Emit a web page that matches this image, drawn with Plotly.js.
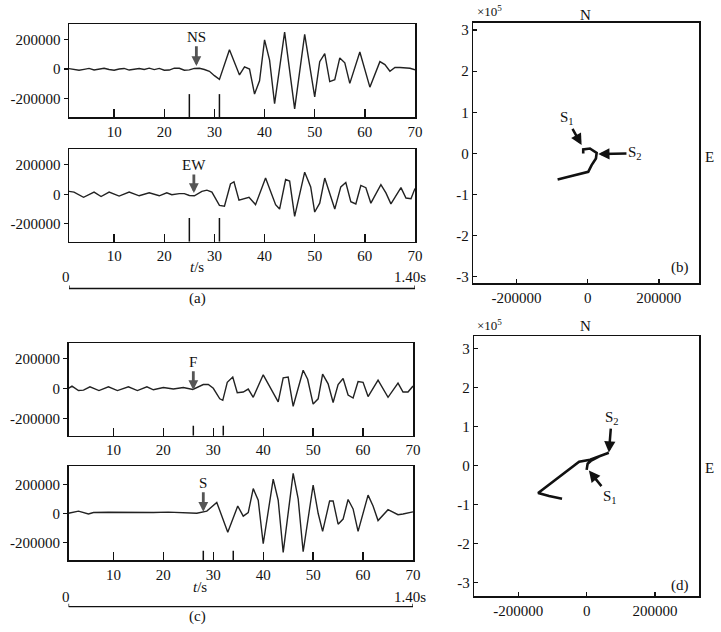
<!DOCTYPE html>
<html>
<head>
<meta charset="utf-8">
<script src="https://cdn.plot.ly/plotly-3.0.1.min.js"></script>
<style>html,body{margin:0;padding:0;background:#fff;}#chart{width:721px;height:632px;}</style>
</head>
<body>
<div id="chart"></div>
<script>
// ---------- data ----------
const nsT = [1,2,3,4,5,6,7,8,9,10,11,12,13,14,15,16,17,18,19,20,21,22,23,24,25,26,27,28,29,30,31,33,35,36,37,38,39,40,41,42,44,46,48,50,51,52,53,54,55,56,57,59,61,63,64,65,66,67,68,69,70];
const nsV = [3000,-3000,-8000,-2000,4000,-6000,-2000,5000,-3000,-8000,0,4000,-7000,-2000,3000,-3000,6000,-4000,4000,-8000,-7000,6000,5000,-8000,-6000,4000,5000,-3000,-15000,-45000,-70000,130000,-40000,15000,0,-170000,-80000,198000,60000,-235000,250000,-270000,235000,-188000,50000,105000,-85000,-72000,75000,42000,-97000,115000,-123000,50000,30000,-15000,10000,10000,10000,5000,-5000];

const ewT = [1,2,3.9,6,7.4,9,11,13,15,17,19,20.5,21.5,23,24,25,26,27.5,28.5,29.5,31,32,33.2,33.9,34.9,36.9,38.2,40.2,42.2,43,44.2,45,46,48,49.2,50,51,52,54,55.2,56.2,57.2,58.2,59.2,60.2,61.2,63.2,64.2,65.2,67.2,68.2,69.2,70];
const ewV = [20000,15000,-20000,15000,-15000,15000,-12000,15000,-10000,10000,-10000,10000,-3000,5000,5000,-8000,-10000,20000,28000,15000,-75000,-80000,70000,85000,-40000,-20000,-70000,110000,-70000,-100000,100000,90000,-150000,150000,50000,-120000,-60000,110000,-100000,50000,80000,-50000,-65000,60000,45000,-60000,65000,10000,-65000,45000,-25000,-30000,40000];

const fT = [1,1.7,3,4,5.3,7.1,9,10.8,13,14.8,16.7,18,20,22,24,25.9,28,29,30,31.3,31.9,32.8,33.9,34.8,36,37,38,40,43,44,45,46,48,48.9,50,51,51.9,53,54,55,56,57,58,59,60,61,63,65,67,68,69,70];
const fV = [0,15000,-15000,-12000,10000,-15000,10000,-15000,10000,-15000,10000,-10000,5000,-5000,5000,-8000,25000,25000,0,-70000,-80000,40000,75000,-30000,-25000,-5000,-60000,90000,-90000,70000,75000,-120000,120000,60000,-105000,-70000,95000,30000,-95000,25000,65000,-45000,-65000,45000,40000,-55000,55000,-60000,35000,-25000,-25000,15000];

const sT = [1,3,5,6,9,12,15,18,21,24,26.7,28.7,30.7,32.9,34.9,36,37,38,39,40,42,43,44,46,47,48,50,51,51.9,53.3,54,55,56,57,58,59,61,62,63,65,67,68,70];
const sV = [0,15000,-5000,5000,7000,5000,7000,5000,8000,6000,0,15000,75000,-130000,50000,-20000,5000,170000,90000,-210000,235000,90000,-270000,275000,100000,-265000,195000,0,-125000,85000,85000,-75000,-40000,95000,30000,-125000,125000,50000,-50000,25000,-10000,-5000,10000];

const nsPicks = [25, 31];
const ewPicks = [25, 31];
const fPicks = [26, 32];
const sPicks = [28, 34];

const hodoBx = [-12400,-12400,6500,25300,23300,11200,1700,-20000,-40400,-62000,-84300];
const hodoBy = [0,9700,12000,1500,-12200,-28500,-44800,-49000,-52800,-58500,-63300];
const hodoDx = [0,3000,12000,40000,65000,40000,10000,-22000,-142000,-110000,-72000];
const hodoDy = [-11000,5000,12000,25000,33000,24000,15000,10000,-70000,-78000,-85000];

const tsTickVals = [10,20,30,40,50,60,70];
const tsYTickVals = [-200000,0,200000];
const tsYTickText = ['-200000','0','200000'];
const hxTickVals = [-200000,0,200000];
const hxTickText = ['-200000','0','200000'];
const hyTickVals = [-300000,-200000,-100000,0,100000,200000,300000];
const hyTickText = ['-3','-2','-1','0','1','2','3'];

// ---------- helpers ----------
const W = 721, H = 632;
const px = v => v / W;
const py = v => 1 - v / H;
const FONT = "'Liberation Serif', 'Times New Roman', serif";
const INK = '#111';

function wave(t, v, n) {
  return {type:'scatter', mode:'lines', x:t, y:v, xaxis:'x'+n, yaxis:'y'+n,
    line:{color:'#222', width:1.4}, hoverinfo:'skip'};
}
function picks(p, top, bottom, n) {
  const x = [], y = [];
  p.forEach(v => { x.push(v, v, null); y.push(bottom, top, null); });
  return {type:'scatter', mode:'lines', x:x, y:y, xaxis:'x'+n, yaxis:'y'+n,
    line:{color:INK, width:1.5}, hoverinfo:'skip'};
}
function hodo(x, y, n) {
  return {type:'scatter', mode:'lines', x:x, y:y, xaxis:'x'+n, yaxis:'y'+n,
    line:{color:INK, width:2.6}, hoverinfo:'skip'};
}

const tsRange = [[-325000,305000],[-321000,307000],[-316000,300000],[-322000,326000]];

const data = [
  wave(nsT, nsV, ''), picks(nsPicks, -170000, tsRange[0][0], ''),
  wave(ewT, ewV, 2), picks(ewPicks, -160000, tsRange[1][0], 2),
  wave(fT, fV, 3), picks(fPicks, -250000, tsRange[2][0], 3),
  wave(sT, sV, 4), picks(sPicks, -258000, tsRange[3][0], 4),
  hodo(hodoBx, hodoBy, 5), hodo(hodoDx, hodoDy, 6)
];

function tsX(dom, anchor) {
  return {domain:dom, range:[1,70], tickvals:tsTickVals, ticks:'inside', ticklen:8, tickwidth:1.3, tickcolor:INK,
    showline:true, mirror:true, linecolor:INK, linewidth:1.5, showgrid:false, zeroline:false, anchor:anchor,
    tickfont:{family:FONT, size:15, color:INK}};
}
function tsY(dom, range, anchor) {
  return {domain:dom, range:range, tickvals:tsYTickVals, ticktext:tsYTickText, ticks:'outside', ticklen:4, tickwidth:1.3, tickcolor:INK,
    showline:true, mirror:true, linecolor:INK, linewidth:1.5, showgrid:false, zeroline:false, anchor:anchor,
    tickfont:{family:FONT, size:15, color:INK}};
}
function hX(dom, range, anchor) {
  return {domain:dom, range:range, tickvals:hxTickVals, ticktext:hxTickText, ticks:'inside', ticklen:4, tickwidth:1.3, tickcolor:INK,
    showline:true, mirror:true, linecolor:INK, linewidth:1.5, showgrid:false, zeroline:false, anchor:anchor,
    tickfont:{family:FONT, size:15, color:INK}};
}
function hY(dom, range, anchor) {
  return {domain:dom, range:range, tickvals:hyTickVals, ticktext:hyTickText, ticks:'inside', ticklen:4, tickwidth:1.3, tickcolor:INK,
    showline:true, mirror:true, linecolor:INK, linewidth:1.5, showgrid:false, zeroline:false, anchor:anchor,
    tickfont:{family:FONT, size:15, color:INK}};
}

const layout = {
  width:W, height:H, margin:{l:0,r:0,t:0,b:0}, showlegend:false,
  paper_bgcolor:'#fff', plot_bgcolor:'#fff',
  font:{family:FONT, size:15, color:INK},
  xaxis: tsX([px(69), px(415)], 'y'),
  yaxis: tsY([py(117), py(24)], tsRange[0], 'x'),
  xaxis2: tsX([px(69), px(415)], 'y2'),
  yaxis2: tsY([py(241.7), py(149)], tsRange[1], 'x2'),
  xaxis3: tsX([px(68.5), px(413)], 'y3'),
  yaxis3: tsY([py(435.7), py(343.3)], tsRange[2], 'x3'),
  xaxis4: tsX([px(68.5), px(413)], 'y4'),
  yaxis4: tsY([py(560), py(466)], tsRange[3], 'x4'),
  xaxis5: hX([px(473.3), px(699.3)], [-321000,313500], 'y5'),
  yaxis5: hY([py(283.3), py(22.7)], [-316000,318000], 'x5'),
  xaxis6: hX([px(474.3), px(699.3)], [-329000,330000], 'y6'),
  yaxis6: hY([py(596), py(336)], [-334000,332000], 'x6'),
  shapes: [],
  annotations: []
};

// scale bars
function scaleBar(xref, yPix) {
  const y = py(yPix), up = 3 / H;
  layout.shapes.push({type:'line', xref:xref, yref:'paper', x0:1, x1:70, y0:y, y1:y, line:{color:INK, width:1.3}});
  layout.shapes.push({type:'line', xref:xref, yref:'paper', x0:1, x1:1, y0:y, y1:y+up, line:{color:INK, width:1.3}});
  layout.shapes.push({type:'line', xref:xref, yref:'paper', x0:70, x1:70, y0:y, y1:y+up, line:{color:INK, width:1.3}});
}
scaleBar('x2', 288.5);
scaleBar('x4', 606.7);

const A = layout.annotations;
function txt(x, y, s, opts) {
  A.push(Object.assign({xref:'paper', yref:'paper', x:x, y:y, text:s, showarrow:false,
    xanchor:'center', yanchor:'middle', font:{family:FONT, size:15, color:INK}}, opts || {}));
}
// labelled arrows: text sits at the tail (pixel offset ax, ay from the tip)
function labelArrow(xr, yr, x, y, ax, ay, s, color, size) {
  A.push({xref:xr, yref:yr, x:x, y:y, ax:ax, ay:ay, text:s, showarrow:true,
    arrowhead:2, arrowsize:size, arrowwidth:color === INK ? 2.5 : 2.8, arrowcolor:color, standoff:0,
    borderpad:1, font:{family:FONT, size:15, color:INK}});
}
labelArrow('x','y', 26.4, 20000, 0, -29.3, 'NS', '#555', 0.7);
labelArrow('x2','y2', 25.9, 9000, 0, -28, 'EW', '#555', 0.7);
labelArrow('x3','y3', 26, -11000, 0, -28.3, 'F', '#555', 0.7);
labelArrow('x4','y4', 28, 11000, 0, -29, 'S', '#555', 0.7);

labelArrow('x5','y5', -16900, 20200, -15, -26.7, 'S<sub>1</sub>', INK, 0.9);
labelArrow('x5','y5', 29800, -1700, 36.7, -0.7, 'S<sub>2</sub>', INK, 0.9);
labelArrow('x6','y6', 65300, 33300, 2.7, -34.4, 'S<sub>2</sub>', INK, 0.9);
labelArrow('x6','y6', 6700, -12800, 21, 26, 'S<sub>1</sub>', INK, 0.9);

// panel texts (a),(c)
txt(px(197), py(267), '<i>t</i>/s');
txt(px(66), py(277), '0');
txt(px(410), py(277), '1.40s');
txt(px(197), py(298), '(a)');
txt(px(200), py(586.7), '<i>t</i>/s');
txt(px(66), py(597), '0');
txt(px(410), py(597), '1.40s');
txt(px(197), py(616.7), '(c)');
// panel texts (b),(d)
txt(px(585.7), py(15), 'N');
txt(px(709), py(157), 'E');
txt(px(475), py(11.5), '×10<sup>5</sup>', {xanchor:'left', font:{family:FONT, size:13, color:INK}});
txt(px(680), py(267), '(b)');
txt(px(585.7), py(326), 'N');
txt(px(709), py(468), 'E');
txt(px(475), py(325), '×10<sup>5</sup>', {xanchor:'left', font:{family:FONT, size:13, color:INK}});
txt(px(680), py(585), '(d)');

Plotly.newPlot('chart', data, layout, {staticPlot:true, displayModeBar:false});
</script>
</body>
</html>
